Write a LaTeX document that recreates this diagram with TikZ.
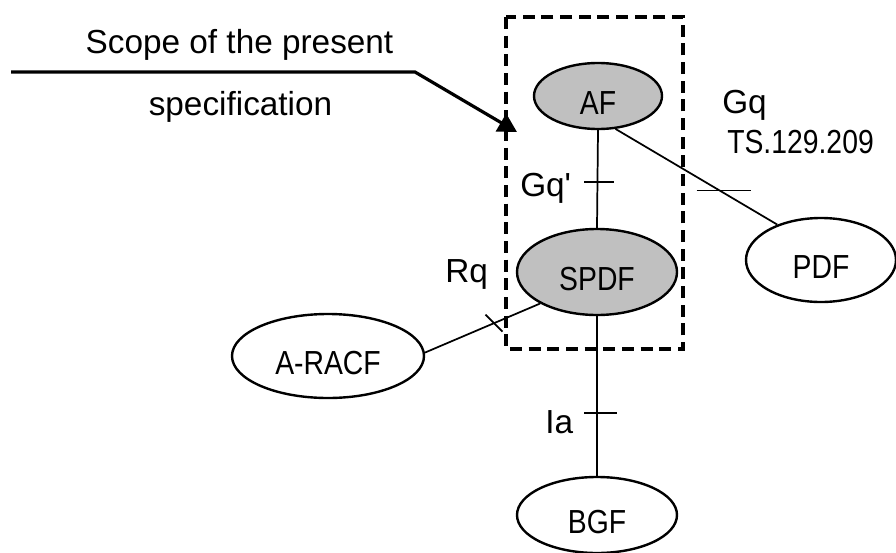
\documentclass[tikz,border=0pt]{standalone}
\usepackage{fontspec}
\setmainfont{Liberation Sans}
\newfontfamily\capsfont[FakeStretch=0.85]{Liberation Sans}
\usetikzlibrary{shapes.geometric,arrows.meta}
\definecolor{funcgray}{HTML}{C0C0C0}

\begin{document}
\begin{tikzpicture}[x=0.75pt, y=-0.75pt,
	every node/.style={font=\fontsize{25}{30}\selectfont},
	func/.style={draw, ellipse, line width=1.8pt, inner sep=0pt, text height=27pt, text depth=0pt, font=\fontsize{25}{30}\capsfont},
	ours/.style={func, fill=funcgray},
	link/.style={line width=1.3pt},
	crossbar/.style={line width=1.3pt},
	lbl/.style={anchor=base west, inner sep=0pt}]
	\useasboundingbox (0,0) rectangle (896,553);
	\draw [line width=2.6pt, dash pattern=on 9pt off 5pt] (506,17) rectangle (683,349);
	\node [ours, minimum width=96pt, minimum height=49.5pt] (AF) at (598,96) {AF};
	\node [ours, minimum width=120pt, minimum height=64.5pt] (SPDF) at (597,272) {SPDF};
	\node [func, minimum width=112.5pt, minimum height=63pt] (PDF) at (821,260) {PDF};
	\node [func, minimum width=144pt, minimum height=63pt] (ARACF) at (328,356) {A-RACF};
	\node [func, minimum width=120pt, minimum height=57pt] (BGF) at (597,515) {BGF};
	\draw [link] (AF.south) -- (SPDF.north) coordinate [pos=0.53] (gqT);
	\draw [link] (AF.-62) -- (PDF.141) coordinate [pos=0.644] (pdfT);
	\draw [link] (SPDF.-151) -- (ARACF.2) coordinate [pos=0.40] (rqT);
	\draw [link] (SPDF.south) -- (BGF.north) coordinate [pos=0.607] (iaT);
	\draw [crossbar] (gqT) ++(-13,0) -- ++(30,0);
	\draw [crossbar] (pdfT) ++(-23,0) -- ++(54,0);
	\draw [crossbar] (rqT) ++(-8.5,-8.5) -- ++(17,17);
	\draw [crossbar] (iaT) ++(-13,0) -- ++(33,0);
	\node [lbl] (gqp) at (520,196) {Gq\textquotesingle};
	\node [lbl] (gq) at (722,113) {Gq};
	\node [lbl, font=\fontsize{25}{30}\capsfont] (ts) at (727,153) {TS.129.209};
	\node [lbl] (rq) at (445,282) {Rq};
	\node [lbl] (ia) at (545,433) {Ia};
	\node [anchor=base, inner sep=0pt] (scopeA) at (239.5,53) {Scope of the present};
	\node [anchor=base, inner sep=0pt] (scopeB) at (240.5,115) {specification};
	\coordinate (scopeL) at (11,72);
	\coordinate (scopeK) at (415,72);
	\coordinate (scopeT) at (517,132);
	\draw [line width=2.4pt, -{Triangle[length=14pt,width=15pt]}] (scopeL) -- (scopeK) -- (scopeT);
\end{tikzpicture}
\end{document}
